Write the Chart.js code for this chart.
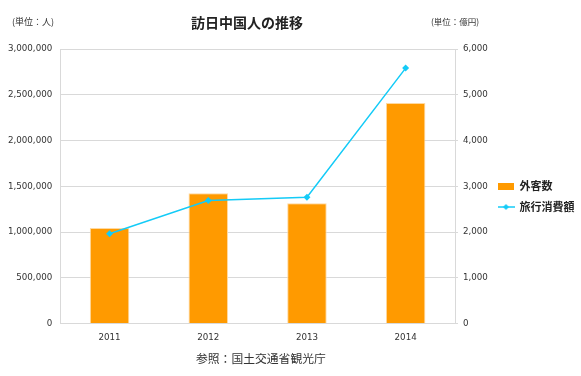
<!DOCTYPE html>
<html>
<head>
<meta charset="utf-8">
<script src="https://cdn.jsdelivr.net/npm/chart.js@4/dist/chart.umd.min.js"></script>
<style>
  html, body { margin: 0; padding: 0; background: #fff; }
  #wrap { position: relative; width: 581px; height: 376px; }
  #wrap canvas { position: absolute; left: 0; top: 0; }
  .txt { position: absolute; font-family: "Noto Sans CJK JP", sans-serif; color: #333; white-space: nowrap; }
  #title { left: 191px; top: 12px; font-size: 14px; font-weight: bold; color: #222; }
  #unitL { left: 12px; top: 15px; font-size: 9px; }
  #unitR { left: 431px; top: 15px; font-size: 8.5px; }
  #source { left: 196px; top: 349px; font-size: 11.8px; }
</style>
</head>
<body>
<div id="wrap">
  <canvas id="chart" width="581" height="376"></canvas>
  <div class="txt" id="title">訪日中国人の推移</div>
  <div class="txt" id="unitL">(単位：人)</div>
  <div class="txt" id="unitR">(単位：億円)</div>
  <div class="txt" id="source">参照：国土交通省観光庁</div>
</div>
<script>
// データ
const years = ['2011', '2012', '2013', '2014'];
const visitors = [1043246, 1425100, 1314437, 2409158];   // 外客数（人）
const spending = [1964, 2688, 2759, 5583];               // 旅行消費額（億円）
const leftTicks = [0, 500000, 1000000, 1500000, 2000000, 2500000, 3000000];
const rightTicks = [0, 1000, 2000, 3000, 4000, 5000, 6000];

const ORANGE = '#FF9A00';
const CYAN = '#14CBF7';
const GRID = '#D9D9D9';
const NUM_FONT = { family: 'DejaVu Sans', size: 8.7 };

// 凡例用アイコン
function makeBarIcon() {
  const c = document.createElement('canvas');
  c.width = 16; c.height = 7;
  const g = c.getContext('2d');
  g.fillStyle = ORANGE;
  g.fillRect(0, 0, 16, 7);
  return c;
}
function makeLineIcon() {
  const c = document.createElement('canvas');
  c.width = 17; c.height = 8;
  const g = c.getContext('2d');
  g.strokeStyle = CYAN;
  g.lineWidth = 1.5;
  g.beginPath(); g.moveTo(0, 4); g.lineTo(17, 4); g.stroke();
  g.fillStyle = CYAN;
  g.beginPath(); g.moveTo(8.5, 1); g.lineTo(11.5, 4); g.lineTo(8.5, 7); g.lineTo(5.5, 4); g.closePath(); g.fill();
  return c;
}
const icons = [makeBarIcon(), makeLineIcon()];

const fmt = v => v.toLocaleString('en-US');

new Chart(document.getElementById('chart'), {
  data: {
    labels: years,
    datasets: [
      {
        type: 'line',
        label: '旅行消費額',
        data: spending,
        yAxisID: 'y2',
        borderColor: CYAN,
        backgroundColor: CYAN,
        borderWidth: 1.5,
        pointStyle: 'rectRot',
        pointRadius: 3.5,
        pointBorderWidth: 0,
        tension: 0,
        order: 0
      },
      {
        type: 'bar',
        label: '外客数',
        data: visitors,
        yAxisID: 'y',
        backgroundColor: ORANGE,
        borderColor: '#FFD9A0',
        borderWidth: 1,
        categoryPercentage: 1,
        barPercentage: 0.4,
        order: 1
      }
    ]
  },
  options: {
    responsive: false,
    animation: false,
    layout: { padding: { left: 0, top: 49, bottom: 32, right: 0 } },
    plugins: {
      tooltip: { enabled: false },
      title: { display: false },
      legend: {
        position: 'right',
        reverse: true,
        maxWidth: 93,
        labels: {
          usePointStyle: true,
          pointStyleWidth: 16,
          padding: 10,
          color: '#222',
          font: { family: 'Noto Sans CJK JP', size: 11, weight: 'bold' },
          generateLabels(chart) {
            return chart.data.datasets.map((ds, i) => ({
              text: ds.label,
              pointStyle: ds.type === 'bar' ? icons[0] : icons[1],
              fillStyle: ds.backgroundColor,
              strokeStyle: ds.backgroundColor,
              lineWidth: 0,
              hidden: false,
              datasetIndex: i,
              fontColor: '#222'
            }));
          }
        }
      }
    },
    scales: {
      x: {
        grid: { display: false },
        border: { display: true, color: GRID, width: 1 },
        ticks: { color: '#333', font: NUM_FONT, padding: 1, maxRotation: 0 }
      },
      y: {
        position: 'left',
        min: 0,
        max: 3000000,
        afterBuildTicks: axis => { axis.ticks = leftTicks.map(v => ({ value: v })); },
        grid: { color: GRID, drawTicks: false },
        border: { display: true, color: GRID, width: 1 },
        ticks: { color: '#333', font: NUM_FONT, padding: 8, callback: v => fmt(v) }
      },
      y2: {
        position: 'right',
        min: 0,
        max: 6000,
        afterBuildTicks: axis => { axis.ticks = rightTicks.map(v => ({ value: v })); },
        afterFit: axis => { axis.width = 33; },
        grid: { drawOnChartArea: false, drawTicks: true, tickLength: 3, color: GRID },
        border: { display: true, color: GRID, width: 1 },
        ticks: { color: '#333', font: NUM_FONT, padding: 5, callback: v => fmt(v) }
      }
    }
  }
});
</script>
</body>
</html>
